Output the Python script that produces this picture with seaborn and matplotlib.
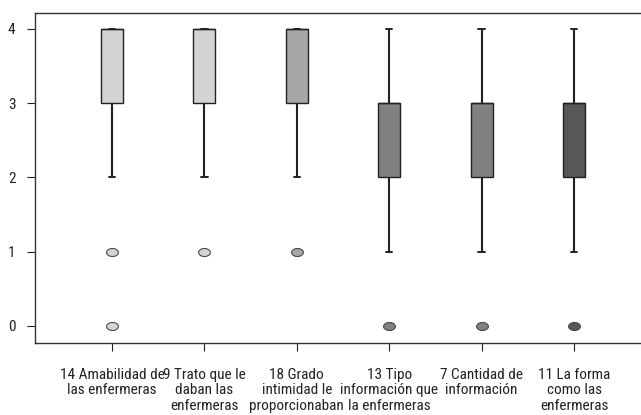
import numpy as np
import pandas as pd
import matplotlib
matplotlib.use("Agg")
import matplotlib.pyplot as plt
from matplotlib.path import Path
import seaborn as sns

levels = [0, 1, 2, 3, 4]
items = [
    "14 Amabilidad de\nlas enfermeras",
    "9 Trato que le\ndaban las\nenfermeras",
    "18 Grado\nintimidad le\nproporcionaban",
    "13 Tipo\ninformación que\nla enfermeras",
    "7 Cantidad de\ninformación",
    "11 La forma\ncomo las\nenfermeras",
]
counts_item1 = [1, 1, 3, 9, 16]
counts_item2 = [0, 1, 3, 9, 16]
counts_item3 = [0, 1, 3, 9, 16]
counts_item4 = [1, 3, 10, 10, 6]
counts_item5 = [1, 3, 10, 10, 6]
counts_item6 = [1, 4, 9, 10, 6]
box_colors = ["#d4d4d6", "#d4d4d6", "#a6a6a9", "#818184", "#818184", "#565758"]
yticks = [0, 1, 2, 3, 4]

all_counts = [counts_item1, counts_item2, counts_item3,
              counts_item4, counts_item5, counts_item6]
rows = []
for it, cnts in zip(items, all_counts):
    for lv, c in zip(levels, cnts):
        rows += [(it, lv)] * c
df = pd.DataFrame(rows, columns=["item", "value"])

sns.set_style("ticks")
plt.rcParams['font.family'] = ['Roboto Condensed', 'Liberation Sans', 'DejaVu Sans']

# oval marker (outliers are slightly wider than tall)
t = np.linspace(0, 2 * np.pi, 40)
oval = Path(np.column_stack([np.cos(t), 0.68 * np.sin(t)]), closed=True)

fig = plt.figure(figsize=(6.41, 4.15), dpi=100)
ax = fig.add_axes([35/641, 1-343/415, 616/641, 330/415])

edge = "#222222"
for it, col in zip(items, box_colors):
    sns.boxplot(
        data=df[df["item"] == it], x="item", y="value", order=items,
        color=col, saturation=1, width=0.24, linecolor=edge, linewidth=1.0,
        whis=1.5, fliersize=8.5,
        flierprops=dict(marker=oval, markerfacecolor=col,
                        markeredgecolor="#4a4a4a", markeredgewidth=0.8),
        whiskerprops=dict(linewidth=1.5, color=edge),
        capprops=dict(linewidth=1.4, color=edge),
        medianprops=dict(linewidth=1.0, color=edge),
        capwidths=0.07,
        ax=ax,
    )

ax.set_xlim(-0.833, 5.833)
ax.set_ylim(-0.229, 4.215)
ax.set_yticks(yticks)
ax.set_yticklabels([str(v) for v in yticks], fontsize=11, color="#222222")
ax.set_xticks(range(len(items)))
ax.set_xticklabels(items, fontsize=11, color="#222222", linespacing=1.12)
ax.set_xlabel("")
ax.set_ylabel("")
ax.tick_params(axis="both", direction="out", length=6, width=0.8, colors="#222222")
ax.tick_params(axis="x", pad=12)
ax.tick_params(axis="y", pad=8)
for s in ["left", "bottom", "top"]:
    ax.spines[s].set_visible(True)
    ax.spines[s].set_linewidth(1.0)
    ax.spines[s].set_color("#333333")
ax.spines["right"].set_visible(False)

fig.savefig("out.png", dpi=100)
